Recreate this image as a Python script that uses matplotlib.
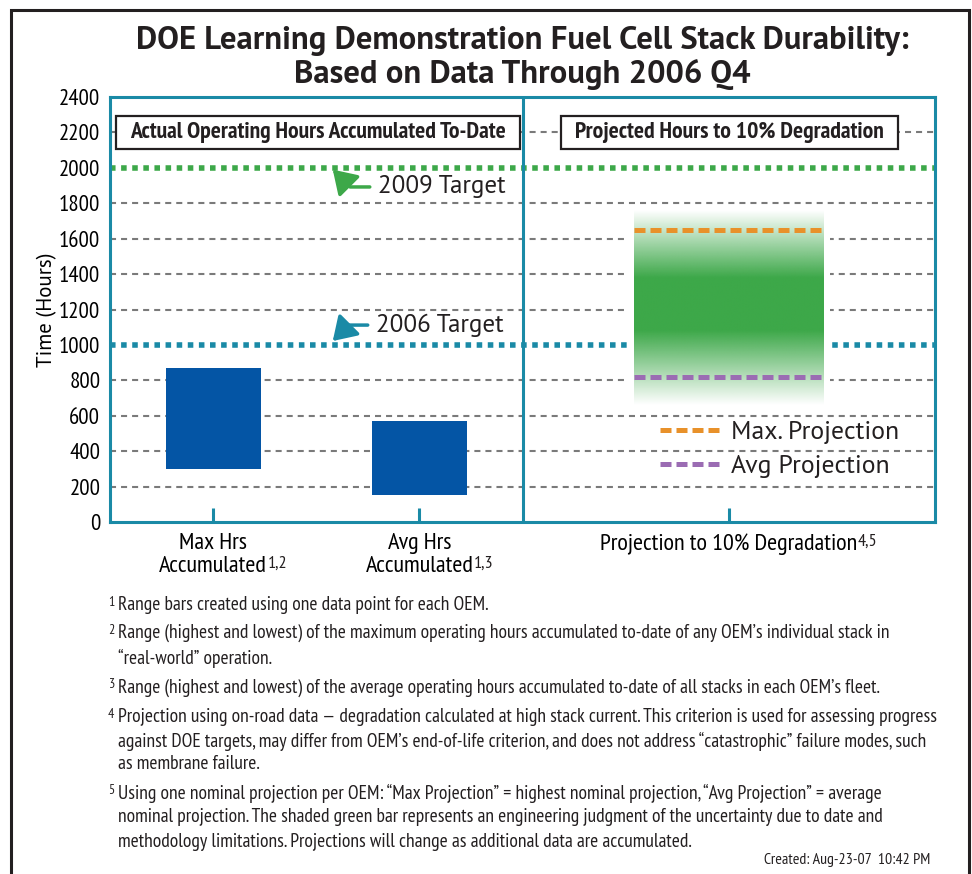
import numpy as np
import matplotlib.pyplot as plt
from matplotlib.patches import Rectangle
from matplotlib import font_manager as fm

### Data
categories = ['Max Hrs\nAccumulated', 'Avg Hrs\nAccumulated', 'Projection to 10% Degradation']
cat_notes = ['1,2', '1,3', '4,5']
cat_pos = [0.5, 1.5, 3.0]

bar_low = [300, 150]      # hours, bottom of range bars
bar_high = [870, 570]     # hours, top of range bars

shade_low, shade_high = 660, 1760      # shaded green uncertainty bar
shade_solid = [1080, 1380]             # fully green part of it
proj_max = 1650
proj_avg = 820

target_2006 = 1000
target_2009 = 2000
y_ticks = list(range(0, 2401, 200))

footnotes = [
    ('1', ['Range bars created using one data point for each OEM.']),
    ('2', ['Range (highest and lowest) of the maximum operating hours accumulated to-date of any OEM\u2019s individual stack in',
           '\u201creal-world\u201d operation.']),
    ('3', ['Range (highest and lowest) of the average operating hours accumulated to-date of all stacks in each OEM\u2019s fleet.']),
    ('4', ['Projection using on-road data \u2014 degradation calculated at high stack current. This criterion is used for assessing progress',
           'against DOE targets, may differ from OEM\u2019s end-of-life criterion, and does not address \u201ccatastrophic\u201d failure modes, such',
           'as membrane failure.']),
    ('5', ['Using one nominal projection per OEM: \u201cMax Projection\u201d = highest nominal projection, \u201cAvg Projection\u201d = average',
           'nominal projection. The shaded green bar represents an engineering judgment of the uncertainty due to date and',
           'methodology limitations. Projections will change as additional data are accumulated.']),
]

#### colours / fonts
teal = '#1A8AA6'
green = '#3DA849'
blue = '#0455A5'
orange = '#E8912A'
purple = '#9B6CB3'
grey = '#7A7A7A'
ink = '#231F20'

have = set(f.name for f in fm.fontManager.ttflist)
def pick(*names):
    return [n for n in names if n in have] + ['DejaVu Sans']

NARROW = pick('PT Sans Narrow', 'Liberation Sans Narrow', 'Roboto Condensed')
REG = pick('PT Sans', 'Open Sans', 'Lato')
plt.rcParams['font.family'] = NARROW
plt.rcParams['text.color'] = ink

W, H = 972, 874
fig = plt.figure(figsize=(W / 100, H / 100), dpi=100)
fx = lambda px: px / W
fy = lambda py: 1 - py / H

ax = fig.add_axes([fx(110), fy(522), fx(935) - fx(110), fy(97) - fy(522)])

#### grid lines (dashed) except where targets sit
for v in y_ticks:
    if v in (0, target_2006, target_2009, 2400):
        continue
    ax.axhline(v, color=grey, lw=1.5, dashes=(2.9, 2.4), zorder=1)

ax.axhline(target_2009, color=green, lw=4, dashes=(1, 1), dash_capstyle='butt', zorder=2)
ax.axhline(target_2006, color=teal, lw=4, dashes=(1, 1), dash_capstyle='butt', zorder=2)

#### range bars
heights = [h - l for h, l in zip(bar_high, bar_low)]
ax.bar(cat_pos[:2], heights, bottom=bar_low, width=0.46, color=blue, zorder=3)

#### shaded projection bar
bw = 0.92
x0, x1 = cat_pos[2] - bw / 2, cat_pos[2] + bw / 2
ax.add_patch(Rectangle((x0 - 0.03, shade_low - 15), bw + 0.06, shade_high - shade_low + 30,
                       fc='white', ec='none', zorder=3))
ys = np.linspace(shade_low, shade_high, 400)
alpha = np.interp(ys, [shade_low, shade_solid[0], shade_solid[1], shade_high], [0, 1, 1, 0])
img = np.zeros((len(ys), 1, 4))
img[..., :3] = plt.matplotlib.colors.to_rgb(green)
img[..., 3] = alpha[:, None]
ax.imshow(img, extent=[x0, x1, shade_low, shade_high], origin='lower', aspect='auto',
          interpolation='bilinear', zorder=4)

ax.plot([x0, x1], [proj_max] * 2, color=orange, lw=3.6, dashes=(2.2, 1.0), zorder=5,
        label='Max. Projection')
ax.plot([x0, x1], [proj_avg] * 2, color=purple, lw=3.6, dashes=(2.2, 1.0), zorder=5,
        label='Avg Projection')

ax.legend(loc='upper left', bbox_to_anchor=((660 - 110) / 825, (522 - 421) / 425),
          frameon=False, borderaxespad=0, borderpad=0, handlelength=2.3,
          handletextpad=0.45, labelspacing=0.42, prop={'family': REG, 'size': 18.5})

#### target annotations
ax.annotate('2009 Target', xy=(1.08, 1990), xytext=(1.30, 1892), ha='left', va='center',
            fontsize=18, family=REG, zorder=6,
            arrowprops=dict(arrowstyle='-|>,head_length=0.7,head_width=0.45', color=green,
                            lw=2.5, mutation_scale=20, shrinkA=4, shrinkB=0,
                            connectionstyle='angle,angleA=0,angleB=-45,rad=0'))
ax.annotate('2006 Target', xy=(1.08, 1022), xytext=(1.29, 1112), ha='left', va='center',
            fontsize=18, family=REG, zorder=6,
            arrowprops=dict(arrowstyle='-|>,head_length=0.7,head_width=0.45', color=teal,
                            lw=2.5, mutation_scale=20, shrinkA=4, shrinkB=0,
                            connectionstyle='angle,angleA=0,angleB=45,rad=0'))

#### panel headers
for (l, r), txt in [((116, 520), 'Actual Operating Hours Accumulated To-Date'),
                    ((561, 898), 'Projected Hours to 10% Degradation')]:
    bx0, bx1 = (l - 110) / 825, (r - 110) / 825
    by0, by1 = (522 - 149) / 425, (522 - 116) / 425
    ax.add_patch(Rectangle((bx0, by0), bx1 - bx0, by1 - by0, transform=ax.transAxes,
                           fc='white', ec=ink, lw=1.6, zorder=7))
    ax.text((bx0 + bx1) / 2, (by0 + by1) / 2, txt, transform=ax.transAxes, ha='center',
            va='center', fontsize=17, fontweight='bold', zorder=8)

#### axes styling
ax.axvline(2, color=teal, lw=2.2, zorder=6)
ax.set_xlim(0, 4)
ax.set_ylim(0, 2400)
ax.set_yticks(y_ticks)
ax.set_xticks(cat_pos)
ax.set_xticklabels(categories, fontsize=17.5, linespacing=1.12)
ax.tick_params(axis='x', direction='in', length=10, width=2.2, color=teal, pad=8)
ax.tick_params(axis='y', length=0, pad=7, labelsize=16.5)
for s in ax.spines.values():
    s.set_color(teal)
    s.set_linewidth(2.2)
    s.set_zorder(6)
ax.set_ylabel('Time (Hours)', fontsize=15, family=REG)
ax.yaxis.set_label_coords((57 - 110) / 825, 0.5)

# footnote marks next to the category labels
for lab, note in zip(ax.get_xticklabels(), cat_notes):
    ax.annotate(note, xy=(1, 0), xycoords=lab, xytext=(0.5, 4), textcoords='offset points',
                ha='left', va='bottom', fontsize=13, annotation_clip=False)

#### title
fig.text(fx(522), fy(41), 'DOE Learning Demonstration Fuel Cell Stack Durability:',
         ha='center', va='center', fontsize=23.5, fontweight='bold', family=REG)
fig.text(fx(522), fy(75), 'Based on Data Through 2006 Q4',
         ha='center', va='center', fontsize=23.5, fontweight='bold', family=REG)

#### footnotes
line_y = [605, 633, 658, 688, 717, 741, 764, 793, 817, 842]
k = 0
for num, lines in footnotes:
    fig.text(fx(108), fy(line_y[k] - 3), num, ha='left', va='center', fontsize=10)
    for ln in lines:
        fig.text(fx(118), fy(line_y[k]), ln, ha='left', va='center', fontsize=14)
        k += 1
fig.text(fx(930), fy(860), 'Created: Aug-23-07  10:42 PM', ha='right', va='center', fontsize=11.4)

#### outer frame
fig.add_artist(Rectangle((fx(11), -0.05), fx(969) - fx(11), fy(10) + 0.05,
                         transform=fig.transFigure, fc='none', ec=ink, lw=2.2))

fig.savefig('out.png', dpi=100)
